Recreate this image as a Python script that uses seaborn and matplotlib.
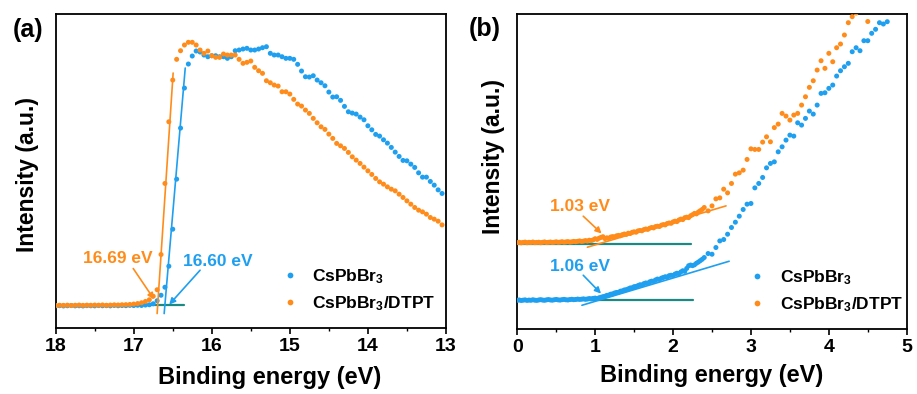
import numpy as np
import pandas as pd
import matplotlib
matplotlib.use("Agg")
import matplotlib.pyplot as plt
import seaborn as sns

# ---------------- data ----------------
series_names = ["CsPbBr$_3$", "CsPbBr$_3$/DTPT"]
colors = ["#1E9FEF", "#FF8C1A"]
teal = "#1B8A84"

# panel (a): energy grid 18.00 -> 13.05 eV, 0.05 eV step
a_blue = [22.4, 22.6, 22.3, 22.5, 22.7, 22.4, 22.5, 22.3, 22.6, 22.5, 22.4, 22.7, 22.5,
          22.6, 22.4, 22.8, 22.5, 22.7, 22.6, 22.9, 22.7, 23.0, 22.8, 23.2, 23.5,
          24.5, 27.5, 33, 41, 62, 99, 149, 200, 240, 264, 272, 277,
          276, 273, 271.3, 272.3, 272.3, 271.3, 271.3, 269.7, 271.3, 277.3, 278, 279,
          279.7, 278, 278, 279, 280.3, 281.3, 274.7, 273, 273, 271.3, 269.7, 269.7,
          268.7, 263.7, 257, 251.3, 251, 252.3, 248, 245.3, 242.3, 236, 231, 231.3,
          227.7, 221.7, 216.3, 215, 214, 211, 208.3, 202.3, 198.3, 193.7, 192, 188.3,
          185, 180.7, 176, 171.7, 167.7, 167.3, 164, 160.7, 155.3, 151, 151, 146.7,
          143, 138.3, 134.7]
a_orange = [22.8, 23.0, 22.9, 23.1, 22.8, 23.0, 23.2, 22.9, 23.1, 23.0, 23.2, 23.1, 23.3,
            23.0, 23.2, 23.4, 23.3, 23.5, 23.6, 23.8,
            24.2, 24.7, 25.5, 26.8, 28.5, 32, 38.5, 73.7, 144.7, 206.3,
            248, 268.7, 277.3, 283, 285.7, 285.7, 283, 278, 274.7, 277,
            272.3, 270.7, 270.7, 274, 273, 273, 273, 268.7, 264.7, 265.7,
            267, 260.7, 257.3, 254.7, 247.3, 245.3, 243, 242, 236.3, 236.3,
            234, 228.7, 224, 222, 218, 214.7, 209.7, 205.3, 201.3, 198.7,
            194, 189.7, 184.7, 182.3, 179.7, 175.7, 171.3, 168, 164.7, 161,
            157.3, 153.7, 149.7, 146.3, 144, 141.3, 139, 137.3, 134, 130.7,
            127.3, 124, 120.7, 118, 116.3, 114, 110.7, 109, 107, 103.3]
a_start, a_step = 18.00, -0.05

# panel (b): dense grid 0 -> 2.375 (0.025 step), then 2.40 -> (0.05 step)
b_blue_low = [29.0, 29.3, 28.8, 29.1, 29.4, 28.9, 29.2, 29.0, 29.5, 29.1, 28.9, 29.3,
              29.6, 29.2, 29.0, 29.4, 29.7, 29.3, 29.1, 29.5, 29.8, 29.4, 29.2, 29.6,
              29.9, 29.5, 29.3, 29.7, 30.0, 29.6, 29.8, 30.2, 29.9, 30.1, 30.4, 30.0,
              30.3, 30.7, 30.4, 30.9, 31.2, 30.8, 31.5, 32.0, 32.6,
              33.0, 33.9, 34.2, 35.1, 35.4, 36.3, 36.8, 37.0, 38.1, 38.4,
              39.3, 39.6, 40.4, 41.3, 41.5, 42.6, 42.8, 43.7, 44.5, 44.3,
              45.6, 46.3, 46.0, 47.4, 48.1, 48.0, 49.3, 50.2, 49.8, 51.1,
              51.8, 52.5, 52.2, 53.6, 54.0, 53.8,
              55.2, 56.0, 55.6, 57.3, 58.5, 57.9, 60.8, 63.5, 64.2, 63.6, 64.4, 66.0,
              67.2, 68.6, 70.0]
b_blue_high = [71.7, 75.7, 75, 81.7, 88.3, 89.7, 95, 101.7, 107, 113,
               119.7, 125, 125.7, 141.3, 145.7, 151.7, 161.3, 165.7, 167.3, 177.3,
               182.3, 189, 194, 193, 206.3, 204, 210.7, 218, 215, 224,
               235.7, 236.3, 240.7, 244, 253, 258.3, 262.3, 265.7, 277.3, 281.3,
               278.3, 288.3, 288.3, 295.7, 299.7, 306.3, 305, 307.3]
b_orange_low = [86.6, 86.9, 86.4, 86.8, 87.1, 86.5, 86.9, 86.7, 87.2, 86.6, 86.8, 87.0,
                86.5, 86.9, 87.3, 86.7, 86.9, 87.2, 86.8, 87.0, 87.4, 86.9, 87.1, 87.5,
                87.0, 87.3, 87.6, 87.1, 87.4, 87.8, 87.5, 87.9, 88.3, 87.8, 88.1, 88.6,
                88.2, 89.0, 88.6, 89.4, 90.5, 89.8, 91.0, 91.8, 92.5,
                90.6, 91.4, 91.0, 92.2, 92.6, 92.3, 93.4, 93.8, 93.5, 94.6,
                95.2, 94.8, 96.0, 95.7, 96.9, 97.4, 97.0, 98.3, 98.7, 98.4,
                99.6, 100.2, 99.8, 101.0, 101.7, 101.3, 102.6, 103.0, 102.7, 104.0,
                104.6, 104.3, 105.7, 106.2, 105.9, 107.3,
                108.0, 107.6, 109.2, 110.1, 109.6, 111.5, 112.0, 111.6, 113.4, 114.5,
                115.8, 115.3, 117.2, 118.5, 119.8]
b_orange_high = [121.7, 118.3, 123.3, 130.3, 131.3, 140, 136.3, 145.7, 155, 156.3,
                 159, 169.7, 180.3, 179.7, 179.7, 187, 192.3, 187.3, 201.5, 205,
                 215.7, 213, 209, 214, 215.7, 224, 232.3, 241.7, 248.3, 259,
                 268.3, 260.7, 275.7, 267.3, 281.3, 285, 294, 306.3, 312.3, 316,
                 322, 320, 307.5, 326]
b_low_step, b_high_start, b_high_step = 0.025, 2.40, 0.05

# fitted lines / baselines (data coordinates)
a_fit_blue = ([16.61, 16.34], [14.7, 260])
a_fit_orange = ([16.70, 16.495], [14.7, 255])
a_base = ([18.0, 16.35], [23, 23])
b_fit_blue = ([0.83, 2.72], [24, 68])
b_fit_orange = ([0.90, 2.68], [82, 123.3])
b_base_blue = ([0.0, 2.25], [29.3, 29.3])
b_base_orange = ([0.0, 2.23], [85.3, 85.3])

a_labels = ["16.69 eV", "16.60 eV"]
b_labels = ["1.03 eV", "1.06 eV"]

# ---------------- build tables ----------------
def grid(start, step, n):
    return start + step * np.arange(n)

dfa = pd.concat([
    pd.DataFrame({"E": grid(a_start, a_step, len(a_blue)), "I": a_blue, "s": series_names[0]}),
    pd.DataFrame({"E": grid(a_start, a_step, len(a_orange)), "I": a_orange, "s": series_names[1]}),
])
dfb = pd.concat([
    pd.DataFrame({"E": np.concatenate([grid(0, b_low_step, len(b_blue_low)),
                                       grid(b_high_start, b_high_step, len(b_blue_high))]),
                  "I": b_blue_low + b_blue_high, "s": series_names[0]}),
    pd.DataFrame({"E": np.concatenate([grid(0, b_low_step, len(b_orange_low)),
                                       grid(b_high_start, b_high_step, len(b_orange_high))]),
                  "I": b_orange_low + b_orange_high, "s": series_names[1]}),
])

# ---------------- style ----------------
sns.set_theme(style="white")
plt.rcParams["font.family"] = ["Liberation Sans", "DejaVu Sans"]
plt.rcParams["font.weight"] = "bold"
plt.rcParams["axes.labelweight"] = "bold"
plt.rcParams["text.color"] = "black"
plt.rcParams["axes.labelcolor"] = "black"
plt.rcParams["xtick.color"] = "black"
plt.rcParams["ytick.color"] = "black"
plt.rcParams["mathtext.fontset"] = "custom"
plt.rcParams["mathtext.rm"] = "Liberation Sans:bold"
plt.rcParams["mathtext.it"] = "Liberation Sans:bold"
plt.rcParams["mathtext.bf"] = "Liberation Sans:bold"
plt.rcParams["mathtext.default"] = "rm"

fig = plt.figure(figsize=(9.17, 3.94), dpi=100)
axa = fig.add_axes([0.0607, 0.1668, 0.4256, 0.7977])
axb = fig.add_axes([0.5641, 0.1642, 0.4247, 0.8003])

palette = dict(zip(series_names, colors))
for ax, df in ((axa, dfa), (axb, dfb)):
    sns.scatterplot(data=df, x="E", y="I", hue="s", palette=palette, s=13,
                    linewidth=0, ax=ax, legend=True, zorder=3)

# lines
axa.plot(*a_base, color=teal, lw=1.6, zorder=2)
axa.plot(*a_fit_blue, color=colors[0], lw=1.2, zorder=4)
axa.plot(*a_fit_orange, color=colors[1], lw=1.2, zorder=4)
axb.plot(*b_base_blue, color=teal, lw=1.6, zorder=2)
axb.plot(*b_base_orange, color=teal, lw=1.6, zorder=2)
axb.plot(*b_fit_blue, color=colors[0], lw=1.2, zorder=4)
axb.plot(*b_fit_orange, color=colors[1], lw=1.2, zorder=4)

# annotations
def arrow(ax, start, end, c):
    ax.annotate("", xy=end, xytext=start,
                arrowprops=dict(arrowstyle="-|>", color=c, lw=1.2, mutation_scale=9,
                                shrinkA=0, shrinkB=0), zorder=5)

axa.text(17.20, 69.7, a_labels[0], color=colors[1], fontsize=12.5, fontweight="bold",
         ha="center", va="center")
axa.text(15.92, 66.3, a_labels[1], color=colors[0], fontsize=12.5, fontweight="bold",
         ha="center", va="center")
arrow(axa, (17.006, 59.7), (16.74, 29), colors[1])
arrow(axa, (16.15, 58), (16.545, 23.7), colors[0])

axb.text(0.80, 123, b_labels[0], color=colors[1], fontsize=12.5, fontweight="bold",
         ha="center", va="center")
axb.text(0.81, 62.3, b_labels[1], color=colors[0], fontsize=12.5, fontweight="bold",
         ha="center", va="center")
arrow(axb, (0.847, 113), (1.083, 95.7), colors[1])
arrow(axb, (0.847, 54), (1.075, 35.7), colors[0])

# axes
axa.set_xlim(18, 13)
axa.set_ylim(0, 314)
axb.set_xlim(0, 5)
axb.set_ylim(0, 315)
for ax in (axa, axb):
    ax.set_yticks([])
    ax.set_xlabel("Binding energy (eV)", fontsize=17, fontweight="bold", color="black")
    ax.set_ylabel("Intensity (a.u.)", fontsize=16.5, fontweight="bold", color="black")
    ax.xaxis.set_minor_locator(matplotlib.ticker.MultipleLocator(0.5))
    ax.tick_params(axis="x", which="major", direction="out", length=4, width=1.2,
                   labelsize=14, pad=3, bottom=True, color="black", labelcolor="black")
    ax.tick_params(axis="x", which="minor", direction="out", length=2.5, width=1.0,
                   bottom=True, color="black")
    for lab in ax.get_xticklabels():
        lab.set_fontweight("bold")
    for sp in ax.spines.values():
        sp.set_color("black")
        sp.set_linewidth(1.3)
    leg = ax.legend(frameon=False, fontsize=12.5, handlelength=1.0, handletextpad=0.8,
                    labelspacing=0.45, markerscale=1.15, loc="lower left",
                    bbox_to_anchor=(0.537, 0.0) if ax is axa else (0.553, 0.0))
    for t in leg.get_texts():
        t.set_fontweight("bold")
        t.set_color("black")
axa.xaxis.set_major_locator(matplotlib.ticker.MultipleLocator(1))
axb.xaxis.set_major_locator(matplotlib.ticker.MultipleLocator(1))
axa.xaxis.set_major_formatter(matplotlib.ticker.FormatStrFormatter("%d"))
axb.xaxis.set_major_formatter(matplotlib.ticker.FormatStrFormatter("%d"))

axa.yaxis.set_label_coords(-0.042, 0.49)
axb.yaxis.set_label_coords(-0.032, 0.547)
axa.xaxis.set_label_coords(0.547, -0.12)
axb.xaxis.set_label_coords(0.5, -0.11)

fig.text(0.0305, 0.924, "(a)", fontsize=18, fontweight="bold", ha="center", va="center")
fig.text(0.529, 0.926, "(b)", fontsize=18, fontweight="bold", ha="center", va="center")

fig.savefig("out.png", dpi=100)
